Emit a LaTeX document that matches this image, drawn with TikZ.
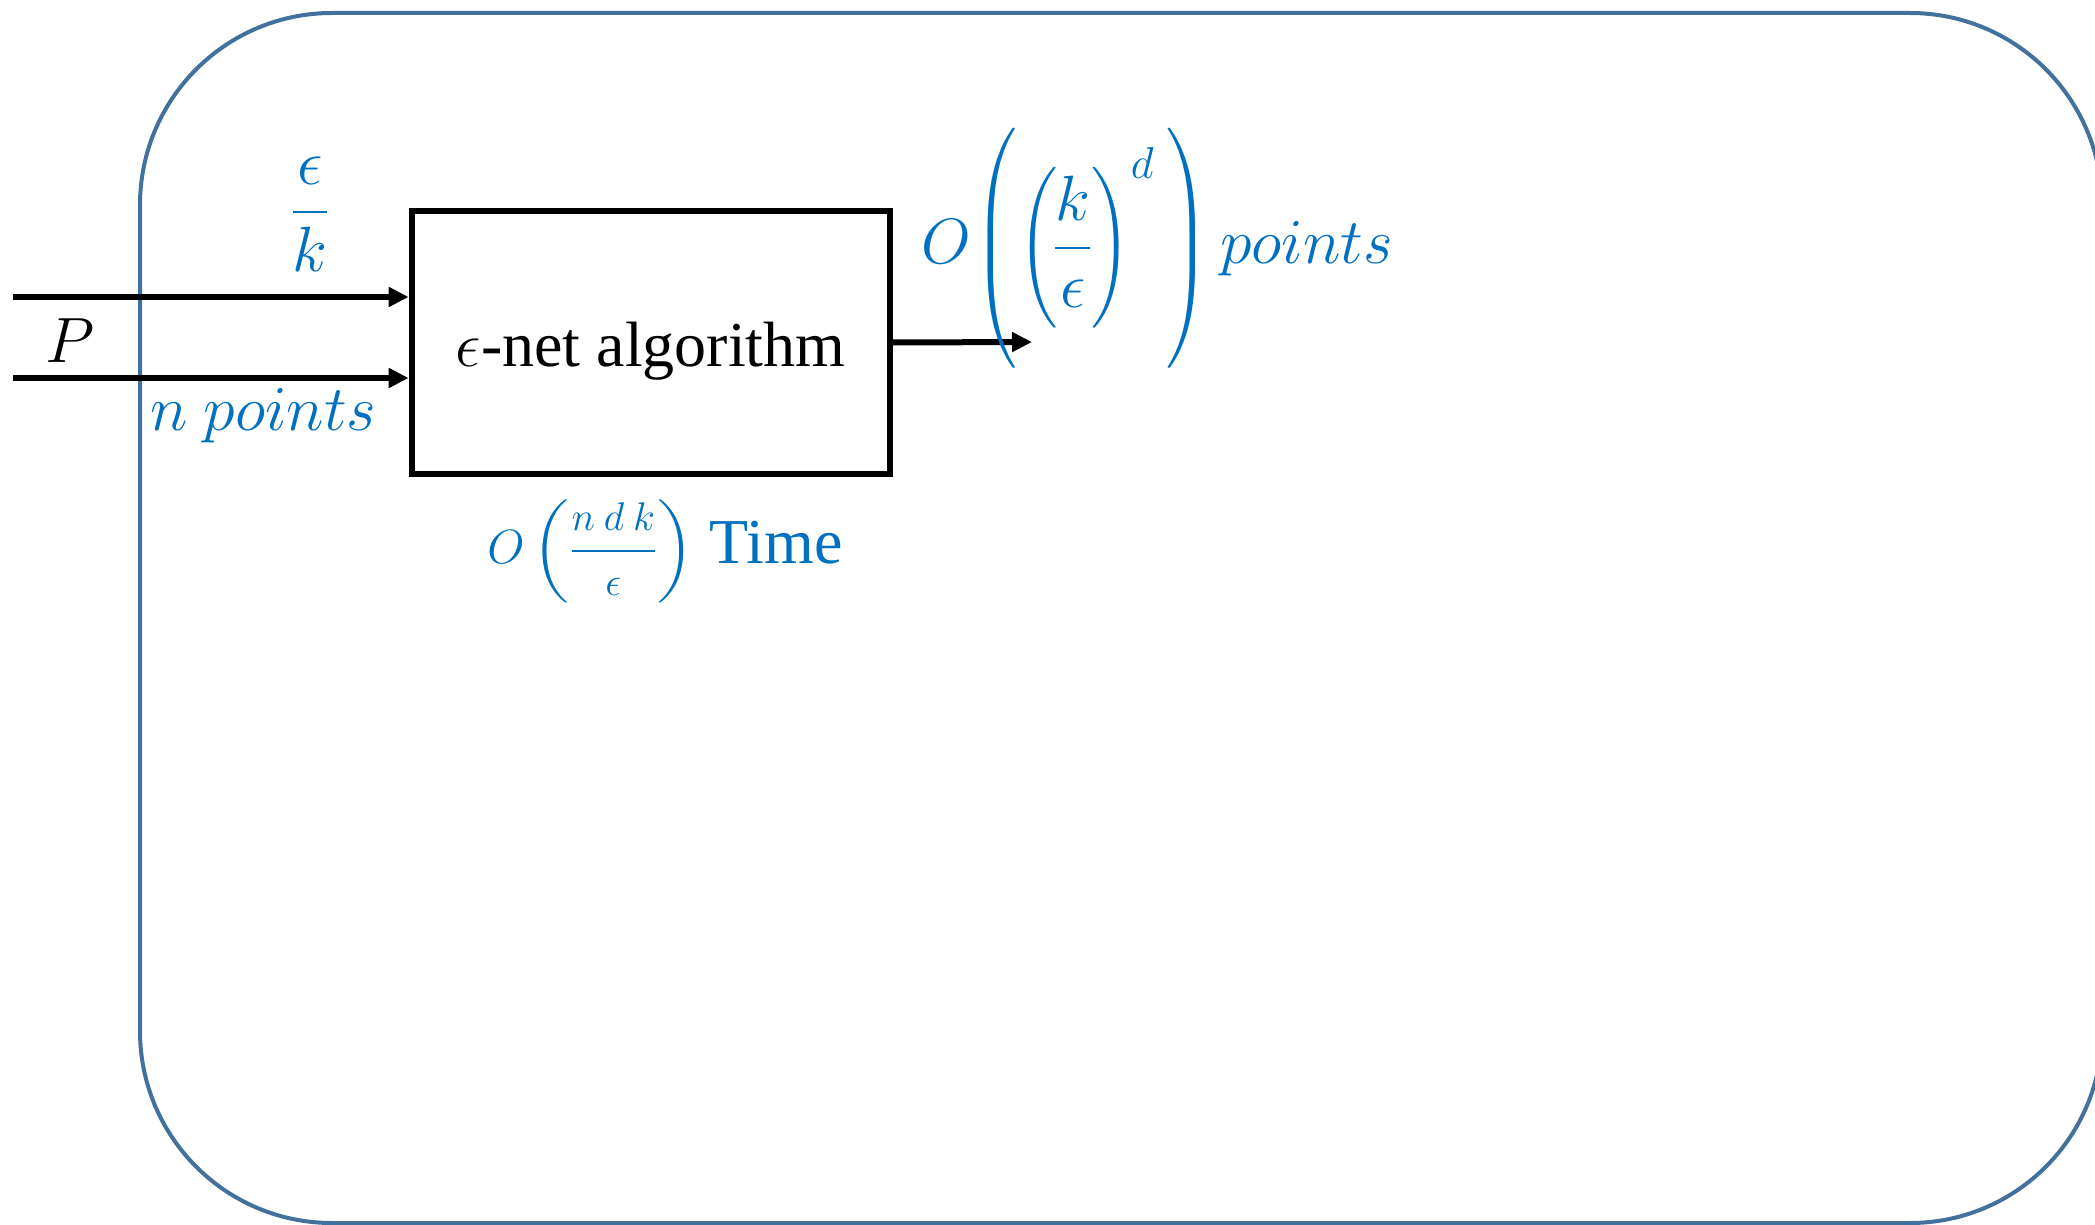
\RequirePackage{fix-cm}
\documentclass[tikz,border=0pt]{standalone}
\usepackage{amsmath}
\usepackage{graphicx}
\usepackage{fontspec}
\setmainfont{Liberation Serif}
\usetikzlibrary{arrows.meta}
\definecolor{frameblue}{HTML}{41719C}
\definecolor{txtblue}{HTML}{0070C0}
\newcommand{\sparen}[3]{\vcenter{\hbox{\scalebox{1}[#1]{$#2#3$}}}}
\newcommand{\midsz}[1]{\text{\fontsize{20}{24}\selectfont$#1$}}
\tikzset{
  arr/.style={line width=3pt, -{Triangle[length=10pt,width=9.5pt]}},
  lbl/.style={inner sep=0pt, text=txtblue, font=\fontsize{32}{38}\selectfont},
  algbox/.style={draw, line width=3pt, minimum width=239pt, minimum height=131.5pt,
    inner sep=0pt, text height=24pt, text depth=0.5pt, font=\fontsize{32}{38}\selectfont},
}
\begin{document}
\begin{tikzpicture}[x=0.5pt,y=-0.5pt]
\useasboundingbox (0,0) rectangle (2095,1225);
\clip (0,0) rectangle (2095,1225);
\draw[frameblue, line width=2pt, rounded corners=96pt] (140,13) rectangle (2102,1223);
\node[algbox] (box) at (650.6,342.5) {$\epsilon$-net algorithm};
\coordinate (a1) at (13,297);
\coordinate (a2) at (13,378);
\coordinate (o1) at (1032,342);
\draw[arr] (a1) -- (a1 -| box.west);
\draw[arr] (a2) -- (a2 -| box.west);
\draw[arr] (box.east) -- (o1);
\node[lbl, anchor=base] (ek) at (310,228) {$\dfrac{\epsilon}{k}$};
\node[inner sep=0pt, anchor=base, font=\fontsize{32}{38}\selectfont] (P) at (70,363) {$P$};
\node[lbl, anchor=base west] (np) at (150,430) {$n\ points$};
\node[lbl, anchor=base west] (outlbl) at (921,264) {$O\kern1pt\sparen{1.151}{\Biggl}{(}\kern1pt\sparen{1.077}{\biggl}{(}\kern-2.5pt\dfrac{k}{\epsilon}\kern-0.5pt\sparen{1.077}{\biggr}{)}^{\raisebox{2pt}{$\scriptstyle d$}}\kern6pt\sparen{1.151}{\Biggr}{)}\kern5pt points$};
\node[lbl, anchor=base west] (time) at (487,563) {\fontsize{24}{29}\selectfont$O\kern4pt\sparen{0.864}{\biggl}{(}\dfrac{\midsz{n\mkern4mu d\mkern4mu k}}{\midsz{\epsilon}}\sparen{0.864}{\biggr}{)}$\fontsize{32}{38}\selectfont{} Time};
\end{tikzpicture}
\end{document}
